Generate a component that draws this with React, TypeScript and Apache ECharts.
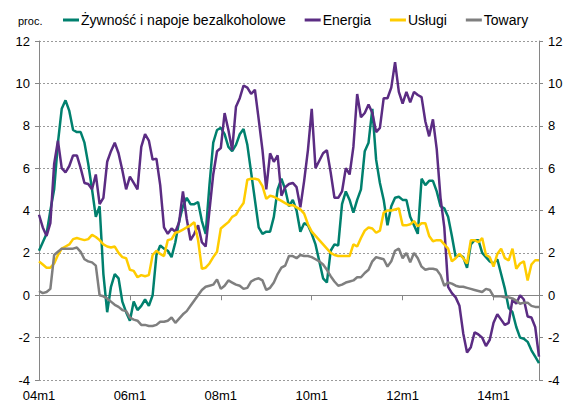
import React, { useEffect, useRef } from "react";
import * as echarts from "echarts";

const seriesNames = ["Żywność i napoje bezalkoholowe", "Energia", "Usługi", "Towary"];
const seriesColors = ["#00806E", "#5B2C83", "#FFCC00", "#7F7F7F"];

// monthly categories 2004m1 .. 2015m1
const categories: string[] = [];
for (let i = 0; i <= 132; i++) {
  const y = 4 + Math.floor(i / 12);
  categories.push(`${String(y).padStart(2, "0")}m${(i % 12) + 1}`);
}

const yTicks = { min: -4, max: 12, interval: 2 };

const food = [
  2.1, 2.5, 2.9, 4.0, 5.0, 7.2, 8.8, 9.2, 8.7, 7.8,
  7.7, 7.7, 7.2, 6.2, 5.0, 3.7, 4.2, 1.0, -0.8, 0.4,
  1.0, 0.8, -0.3, -0.8, -1.2, -0.3, -0.7, -0.5, -0.2, -0.5,
  0.0, 1.9, 2.35, 2.2, 2.1, 1.8, 2.5, 3.5, 4.2, 4.6,
  4.3, 4.3, 4.4, 3.5, 2.9, 5.2, 7.2, 7.8, 7.9, 7.6,
  7.0, 6.8, 7.1, 7.6, 7.85, 7.1, 5.8, 4.5, 3.2, 2.9,
  3.0, 3.0, 3.7, 5.0, 5.5, 5.0, 4.2, 4.5, 4.0, 3.0,
  3.4, 3.3, 2.9, 2.4, 1.6, 0.8, 0.6, 2.1, 2.4, 2.35,
  4.3, 4.9, 4.5, 3.9, 4.5, 5.0, 6.8, 7.2, 8.8, 6.4,
  5.3, 4.5, 3.3, 4.2, 4.6, 4.65, 4.5, 4.5, 3.7, 3.3,
  2.9, 5.5, 5.2, 5.4, 5.4, 4.9, 4.2, 4.1, 3.7, 2.8,
  1.8, 1.9, 1.8, 1.3, 2.4, 2.6, 2.6, 2.0, 1.8, 1.6,
  1.5, 1.7, 1.0, 0.3, -0.6, -0.8, -1.5, -2.0, -2.05, -2.2,
  -2.6, -2.9, -3.2,
];

const energy = [
  3.8, 3.2, 2.8, 3.4, 6.2, 7.3, 6.0, 5.8, 6.1, 6.6,
  6.6, 6.0, 5.3, 5.25, 5.0, 5.7, 4.3, 4.6, 6.3, 6.8,
  7.2, 6.7, 5.9, 5.0, 5.6, 5.3, 5.0, 7.0, 7.6, 7.3,
  6.4, 6.45, 5.2, 3.2, 2.9, 3.15, 3.0, 3.45, 4.9, 3.6,
  2.6, 2.9, 3.3, 2.5, 2.3, 4.0, 5.7, 6.8, 6.95, 8.6,
  7.8, 6.85, 8.9, 9.3, 9.9, 9.8, 9.5, 9.7, 8.3, 6.85,
  5.0, 6.7, 6.3, 6.6, 4.7, 5.1, 5.25, 5.3, 5.1, 4.15,
  5.4, 6.85, 8.8, 6.0, 6.35, 6.7, 6.85, 5.8, 4.6, 4.6,
  4.9, 6.0, 5.7, 7.0, 9.5, 8.4, 8.6, 9.0, 8.6, 7.7,
  7.9, 9.3, 9.3, 9.8, 11.0, 9.6, 9.05, 9.6, 9.1, 9.6,
  9.45, 9.35, 8.2, 7.5, 8.3, 6.9, 4.6, 3.2, 0.4, 0.1,
  -0.1, -0.5, -1.8, -2.7, -2.45, -1.75, -1.85, -2.0, -2.4, -2.1,
  -1.3, -0.9, -1.15, -1.4, -1.3, -0.2, -0.4, 0.0, -0.2, -1.0,
  -1.05, -1.5, -2.9,
];

const services = [
  1.6, 1.45, 1.3, 1.3, 1.5, 1.9, 2.2, 2.3, 2.4, 2.65,
  2.7, 2.65, 2.6, 2.65, 2.85, 2.75, 2.6, 2.4, 2.3, 2.25,
  2.3, 2.0, 1.8, 1.75, 1.2, 1.15, 0.85, 0.95, 0.9, 0.95,
  1.9, 2.1, 1.95, 1.85, 2.6, 2.65, 2.95, 3.0, 3.1, 3.2,
  3.3, 3.45, 2.6, 1.25, 1.3, 1.5, 1.8, 2.05, 3.15, 3.3,
  3.45, 3.7, 3.8, 4.1, 4.35, 5.45, 5.5, 5.5, 5.45, 5.15,
  4.55, 4.7, 4.65, 4.55, 4.45, 4.35, 4.25, 4.25, 4.15, 4.05,
  3.85, 3.35, 3.0, 2.8, 2.6, 2.4, 2.2, 2.0, 1.9, 1.85,
  1.85, 1.85, 1.85, 2.4, 2.3, 2.7, 3.05, 3.2, 3.15, 2.95,
  3.05, 3.9, 4.0, 4.0, 4.05, 4.1, 3.3, 3.3, 3.35, 3.5,
  3.25, 3.4, 3.4, 2.8, 2.55, 2.6, 2.6, 2.4, 2.2, 1.6,
  1.75, 1.95, 1.75, 1.5, 2.6, 2.6, 2.5, 2.7, 1.9, 1.8,
  1.35, 1.95, 2.2, 1.75, 1.65, 2.2, 1.25, 1.5, 1.6, 0.7,
  1.45, 1.65, 1.65,
];

const goods = [
  0.2, 0.1, 0.15, 0.3, 1.9, 2.05, 2.2, 2.2, 2.2, 2.2,
  2.25, 2.05, 1.7, 1.6, 1.55, 1.4, 0.0, -0.05, -0.15, -0.3,
  -0.45, -0.55, -0.7, -0.75, -1.05, -1.15, -1.2, -1.4, -1.4, -1.45,
  -1.45, -1.4, -1.25, -1.25, -1.2, -1.05, -1.3, -1.1, -0.9, -0.75,
  -0.5, -0.25, 0.0, 0.25, 0.4, 0.45, 0.5, 0.75, 0.3, 0.45,
  0.7, 0.6, 0.5, 0.45, 0.3, 0.35, 0.65, 0.75, 0.8, 0.7,
  0.25, 0.35, 0.6, 1.0, 1.3, 1.4, 1.85, 1.85, 1.75, 1.9,
  1.85, 1.85, 1.8, 1.7, 1.6, 1.45, 1.2, 0.9, 0.65, 0.45,
  0.5, 0.6, 0.65, 0.7, 0.85, 0.85, 1.05, 1.2, 1.6, 1.8,
  1.75, 1.7, 1.35, 1.6, 2.1, 2.2, 1.75, 2.0, 1.55, 2.0,
  1.75, 1.35, 1.2, 1.25, 1.25, 1.2, 0.95, 0.45, 0.6, 0.55,
  0.45, 0.4, 0.4, 0.35, 0.3, 0.25, 0.2, 0.15, 0.3, 0.25,
  -0.05, -0.05, -0.05, -0.1, -0.1, -0.15, -0.25, -0.4, -0.35, -0.35,
  -0.5, -0.55, -0.55,
];

const allValues = [food, energy, services, goods];

const FONT = "'Liberation Sans', Arial, sans-serif";

export default function App() {
  const ref = useRef<HTMLDivElement>(null);
  useEffect(() => {
    if (!ref.current) return;
    const chart = echarts.init(ref.current, undefined, { renderer: "svg" });
    const yAxisCommon = {
      type: "value",
      min: yTicks.min,
      max: yTicks.max,
      interval: yTicks.interval,
      axisLine: { show: true, lineStyle: { color: "#868686", width: 1 } },
      axisTick: { show: true, length: 4, lineStyle: { color: "#868686" } },
      axisLabel: { color: "#000", fontSize: 13, fontFamily: FONT, margin: 9 },
    };
    chart.setOption({
      animation: false,
      backgroundColor: "#fff",
      title: {
        text: "proc.",
        left: 13,
        top: 10,
        textStyle: { fontSize: 11, fontWeight: "normal", color: "#000", fontFamily: FONT },
      },
      legend: {
        left: 58,
        top: 8,
        icon: "rect",
        itemWidth: 16,
        itemHeight: 3,
        itemGap: 19,
        textStyle: { fontSize: 14, color: "#000", fontFamily: FONT, padding: [0, 0, 0, -3] },
        data: seriesNames,
      },
      grid: { left: 39, right: 35, top: 41, bottom: 27 },
      xAxis: {
        type: "category",
        data: categories,
        boundaryGap: false,
        axisLine: { lineStyle: { color: "#868686", width: 1 } },
        axisTick: { interval: 23, length: 5, lineStyle: { color: "#868686" } },
        axisLabel: { interval: 23, color: "#000", fontSize: 13, fontFamily: FONT, margin: 9 },
        splitLine: { show: false },
      },
      yAxis: [
        {
          ...yAxisCommon,
          position: "left",
          splitLine: { show: true, lineStyle: { color: "#9a9a9a", type: [2, 2], width: 1 } },
        },
        {
          ...yAxisCommon,
          position: "right",
          splitLine: { show: false },
        },
      ],
      series: seriesNames.map((name, i) => ({
        name,
        type: "line",
        data: allValues[i],
        yAxisIndex: 0,
        showSymbol: false,
        symbol: "none",
        lineStyle: { color: seriesColors[i], width: 2.5 },
        itemStyle: { color: seriesColors[i] },
      })),
    });
    return () => chart.dispose();
  }, []);
  return (
    <div
      ref={ref}
      style={{ position: "fixed", left: 0, top: 0, width: 574, height: 407 }}
    />
  );
}
